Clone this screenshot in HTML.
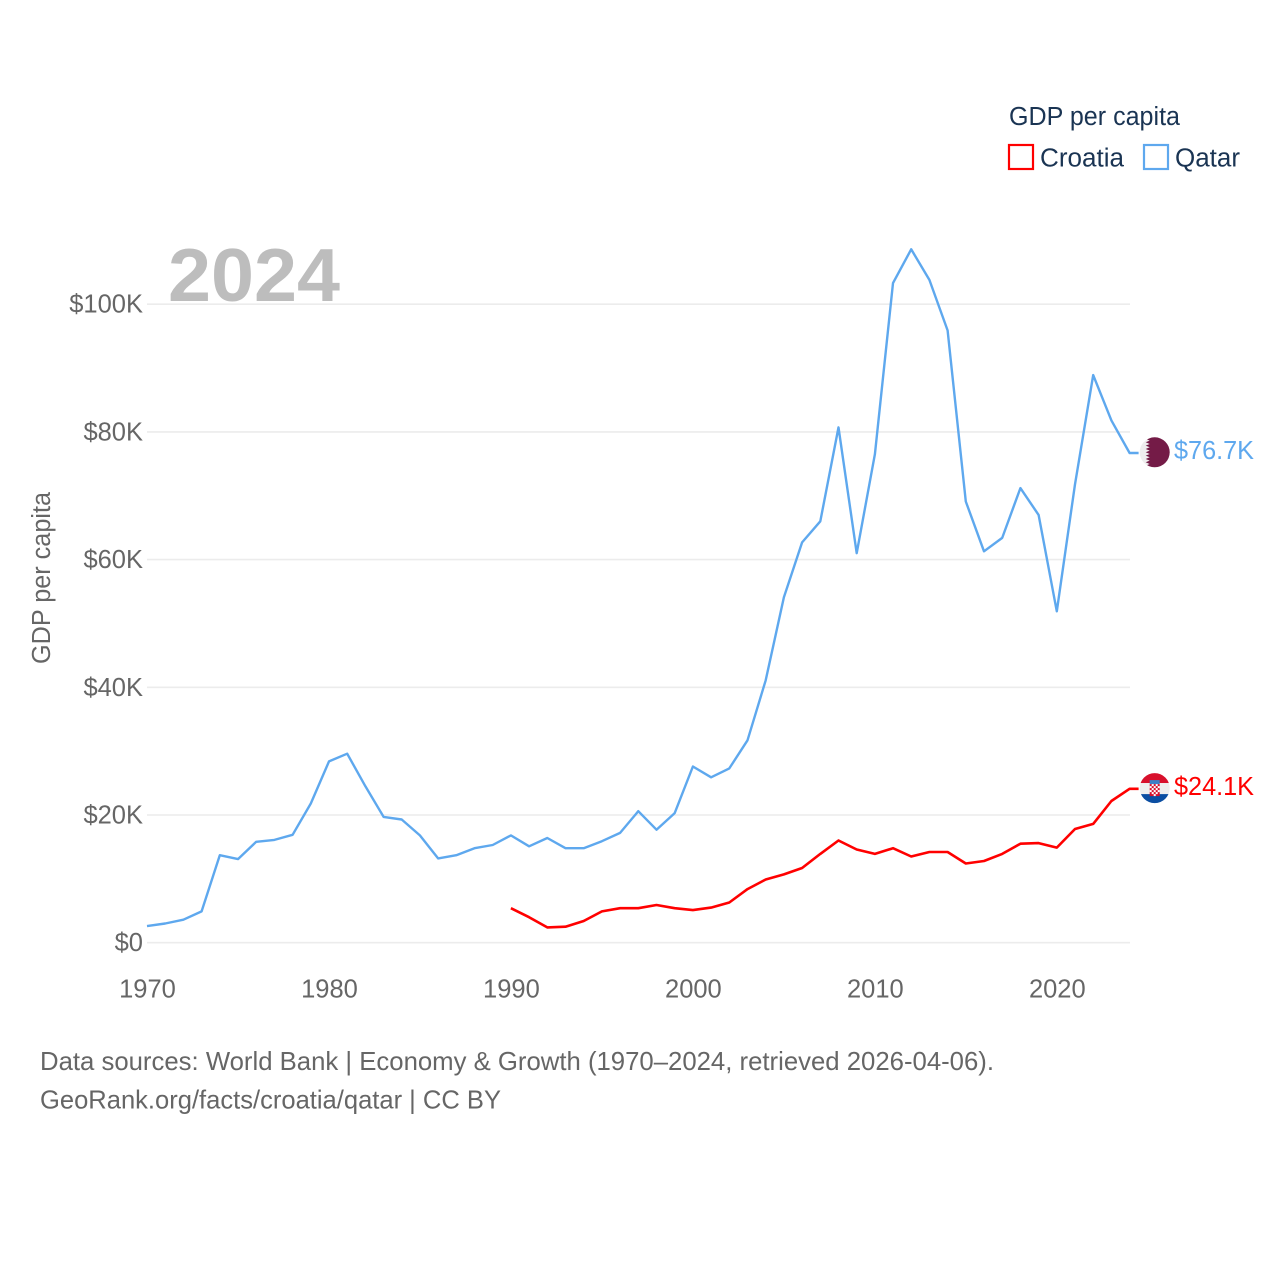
<!DOCTYPE html>
<html>
<head>
<meta charset="utf-8">
<title>GDP per capita: Croatia and Qatar</title>
<style>
html,body{margin:0;padding:0;background:#fff;}
svg{display:block;}
text{font-family:"Liberation Sans",sans-serif;}
</style>
</head>
<body>
<svg id="chart" xmlns="http://www.w3.org/2000/svg" width="1280" height="1280" viewBox="0 0 1280 1280">
  <defs>
    <clipPath id="flag-clip"><circle cx="0" cy="0" r="15"/></clipPath>
  </defs>
  <rect width="1280" height="1280" fill="#fff"/>
  <g id="grid"></g>
  <g id="y-ticks"></g>
  <g id="x-ticks"></g>

  <text x="168" y="301" font-size="75" font-weight="bold" fill="#bdbdbd" textLength="172" lengthAdjust="spacingAndGlyphs">2024</text>
  <text transform="translate(50,578) rotate(-90)" text-anchor="middle" font-size="25.5" fill="#666" textLength="172" lengthAdjust="spacingAndGlyphs">GDP per capita</text>

  <g id="series"></g>

  <g id="flag-qatar">
    <g clip-path="url(#flag-clip)">
      <rect x="-16" y="-16" width="32" height="32" fill="#eeeeee"/>
      <polygon fill="#741b47" points="16,-16 -5,-16 -5,-15 -9,-13.33 -5,-11.67 -9,-10 -5,-8.33 -9,-6.67 -5,-5 -9,-3.33 -5,-1.67 -9,0 -5,1.67 -9,3.33 -5,5 -9,6.67 -5,8.33 -9,10 -5,11.67 -9,13.33 -5,15 -5,16 16,16"/>
    </g>
  </g>
  <g id="flag-croatia">
    <g clip-path="url(#flag-clip)">
      <rect x="-16" y="-16" width="32" height="11" fill="#d8102c"/>
      <rect x="-16" y="-5" width="32" height="11" fill="#eeeeee"/>
      <rect x="-16" y="6" width="32" height="10" fill="#0b4ea2"/>
      <rect x="-5" y="-8" width="10" height="4" fill="#3f7fc5"/>
      <rect x="-5" y="-4" width="10" height="12" fill="#d8102c"/>
      <g fill="#fff">
        <rect x="-3" y="-4" width="2" height="2"/><rect x="1" y="-4" width="2" height="2"/>
        <rect x="-5" y="-2" width="2" height="2"/><rect x="-1" y="-2" width="2" height="2"/><rect x="3" y="-2" width="2" height="2"/>
        <rect x="-3" y="0" width="2" height="2"/><rect x="1" y="0" width="2" height="2"/>
        <rect x="-5" y="2" width="2" height="2"/><rect x="-1" y="2" width="2" height="2"/><rect x="3" y="2" width="2" height="2"/>
        <rect x="-3" y="4" width="2" height="2"/><rect x="1" y="4" width="2" height="2"/>
        <rect x="-1" y="6" width="2" height="2"/>
      </g>
    </g>
  </g>
  <text id="value-qatar" x="1174" font-size="25.5" fill="#5ea8ee" textLength="80" lengthAdjust="spacingAndGlyphs"></text>
  <text id="value-croatia" x="1174" font-size="25.5" fill="#ff0000" textLength="80" lengthAdjust="spacingAndGlyphs"></text>

  <g>
    <text x="1009" y="125" font-size="25.5" fill="#1a3453" textLength="171" lengthAdjust="spacingAndGlyphs">GDP per capita</text>
    <rect x="1009" y="145" width="24" height="24" fill="none" stroke="#ff0000" stroke-width="2.2"/>
    <text x="1040" y="166.7" font-size="25.5" fill="#1a3453" textLength="84" lengthAdjust="spacingAndGlyphs">Croatia</text>
    <rect x="1144" y="145" width="24" height="24" fill="none" stroke="#5ea8ee" stroke-width="2.2"/>
    <text x="1175" y="166.7" font-size="25.5" fill="#1a3453" textLength="65" lengthAdjust="spacingAndGlyphs">Qatar</text>
  </g>

  <text x="40" y="1070" font-size="26" fill="#666" textLength="954" lengthAdjust="spacingAndGlyphs">Data sources: World Bank | Economy &amp; Growth (1970–2024, retrieved 2026-04-06).</text>
  <text x="40" y="1108.5" font-size="26" fill="#666" textLength="461" lengthAdjust="spacingAndGlyphs">GeoRank.org/facts/croatia/qatar | CC BY</text>
</svg>
<script>
const qatarStartYear = 1970;
const croatiaStartYear = 1990;
const qatarValues = [2.6,3.0,3.6,4.9,13.7,13.1,15.8,16.1,16.9,21.8,28.4,29.6,24.5,19.7,19.3,16.8,13.2,13.7,14.8,15.3,16.8,15.1,16.4,14.8,14.8,15.9,17.2,20.6,17.7,20.3,27.6,25.9,27.3,31.7,41.1,54.1,62.7,66.0,80.7,61.0,76.5,103.3,108.6,103.8,95.9,69.1,61.3,63.4,71.2,67.0,51.9,71.8,88.9,81.8,76.7];
const croatiaValues = [5.4,4.0,2.4,2.5,3.4,4.9,5.4,5.4,5.9,5.4,5.1,5.5,6.3,8.4,9.9,10.7,11.7,13.9,16.0,14.6,13.9,14.8,13.5,14.2,14.2,12.4,12.8,13.9,15.5,15.6,14.9,17.8,18.6,22.2,24.1];
const yTickValues = [0,20,40,60,80,100];
const yTickLabels = ['$0','$20K','$40K','$60K','$80K','$100K'];
const xTickValues = [1970,1980,1990,2000,2010,2020];

const NS = 'http://www.w3.org/2000/svg';
function xScale(year){ return 147 + (year - 1970) * (1129.6 - 147) / 54; }
function yScale(v){ return 942.7 - v * 6.385; }
function svgEl(tag, attrs, parent){
  const el = document.createElementNS(NS, tag);
  for (const k in attrs) el.setAttribute(k, attrs[k]);
  parent.appendChild(el);
  return el;
}

const grid = document.getElementById('grid');
const yTicks = document.getElementById('y-ticks');
const xTicks = document.getElementById('x-ticks');
const series = document.getElementById('series');

yTickValues.forEach(function(v, i){
  const line = svgEl('line', {x1:147, x2:1130, y1:yScale(v), y2:yScale(v), stroke:'#ececec', 'stroke-width':1.6}, grid);
  
  
  const label = svgEl('text', {x:143, y:yScale(v)+8.5, 'text-anchor':'end', 'font-size':25.5, fill:'#666'}, yTicks);
  label.textContent = yTickLabels[i];
  
  
});

xTickValues.forEach(function(year){
  const label = svgEl('text', {x:xScale(year)+0.5, y:997.5, 'text-anchor':'middle', 'font-size':25.5, fill:'#666'}, xTicks);
  label.textContent = String(year);
  
  
});

function linePath(values, startYear){
  const pts = values.map(function(v, i){ return xScale(startYear + i).toFixed(1) + ',' + yScale(v).toFixed(1); });
  const last = yScale(values[values.length - 1]).toFixed(1);
  pts.push((xScale(2024) + 9).toFixed(1) + ',' + last);
  return 'M' + pts.join('L');
}

const qatarLine = svgEl('path', {d:linePath(qatarValues, qatarStartYear), fill:'none', stroke:'#5ea8ee', 'stroke-width':2.4, 'stroke-linejoin':'round'}, series);


const croatiaLine = svgEl('path', {d:linePath(croatiaValues, croatiaStartYear), fill:'none', stroke:'#ff0000', 'stroke-width':2.6, 'stroke-linejoin':'round'}, series);



function placeEnd(flagId, labelId, values){
  const last = values[values.length - 1];
  const y = yScale(last);
  document.getElementById(flagId).setAttribute('transform', 'translate(1154.7,' + (y - 0.7).toFixed(1) + ')');
  const label = document.getElementById(labelId);
  label.setAttribute('y', (y + 6).toFixed(1));
  label.textContent = '$' + last.toFixed(1) + 'K';
}
placeEnd('flag-qatar', 'value-qatar', qatarValues);
placeEnd('flag-croatia', 'value-croatia', croatiaValues);
</script>
</body>
</html>
